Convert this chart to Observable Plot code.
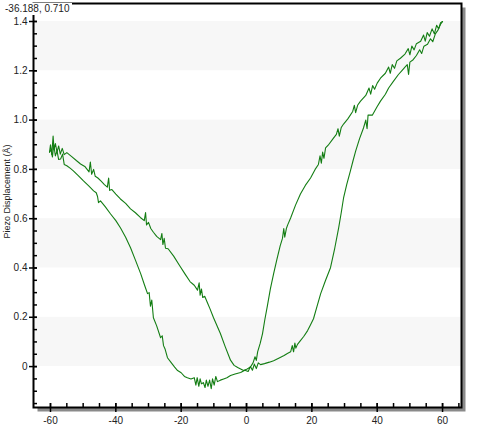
<!DOCTYPE html>
<html>
<head>
<meta charset="utf-8">
<script src="https://cdn.jsdelivr.net/npm/d3@7"></script>
<script src="https://cdn.jsdelivr.net/npm/@observablehq/plot@0.6"></script>
<style>
  html, body { margin: 0; padding: 0; background: #fff; }
  #wrap { position: relative; width: 482px; height: 441px; }
  #chart svg { display: block; }
  #cursor { position: absolute; left: 4px; top: 3px; padding: 0 2px 1px 1px; background: #fff;
            font: 10px "Liberation Sans", Arial, sans-serif; color: #222; line-height: 11px; }
</style>
</head>
<body>
<div id="wrap"><div id="chart"></div><div id="cursor"></div></div>
<script>
// ---- data ----
const cursorText = "-36.188, 0.710";
const yLabel = "Piezo Displacement (Å)";

const xTicks = [-60, -40, -20, 0, 20, 40, 60];
const xTickLabels = ["-60", "-40", "-20", "0", "20", "40", "60"];
const xMinorTicks = [-60, -55, -50, -45, -40, -35, -30, -25, -20, -15, -10, -5, 0, 5, 10, 15, 20, 25, 30, 35, 40, 45, 50, 55, 60, 65];
const yTicks = [0, 0.2, 0.4, 0.6, 0.8, 1.0, 1.2, 1.4];
const yTickLabels = ["0", "0.2", "0.4", "0.6", "0.8", "1.0", "1.2", "1.4"];
const yMinorTicks = [-0.15, -0.1, -0.05, 0, 0.05, 0.1, 0.15, 0.2, 0.25, 0.3, 0.35, 0.4, 0.45, 0.5, 0.55, 0.6, 0.65, 0.7, 0.75, 0.8, 0.85, 0.9, 0.95, 1.0, 1.05, 1.1, 1.15, 1.2, 1.25, 1.3, 1.35, 1.4, 1.45];
const bandLo = [0, 0.4, 0.8, 1.2];
const bandHi = [0.2, 0.6, 1.0, 1.4];

// branch A: upper-left branch, through zero, steep rise to the top right
const aVolt = [-60.3,-60.0,-59.6,-59.2,-58.9,-58.5,-58.0,-57.5,-57.0,-56.4,-55.8,-55.0,-53.5,-52.0,-50.8,-49.5,-48.2,-47.8,-47.4,-46.8,-46.3,-45.5,-44.5,-43.5,-42.6,-42.2,-41.9,-41.2,-40.0,-38.6,-37.0,-35.5,-34.0,-32.5,-31.3,-30.9,-30.6,-30.0,-29.3,-28.5,-27.5,-26.3,-25.9,-25.6,-25.2,-24.8,-24.0,-22.3,-20.5,-18.8,-17.3,-16.0,-15.0,-14.5,-14.2,-13.8,-13.4,-12.8,-11.9,-11.2,-10.1,-9.0,-8.0,-6.5,-4.9,-3.8,-2.7,-1.5,-0.9,0.2,1.2,2.0,2.6,3.0,3.4,4.2,4.9,5.6,6.4,7.3,8.3,9.3,10.3,11.0,11.4,11.7,12.2,12.6,13.5,15.0,16.5,18.0,19.6,21.0,22.0,22.5,22.9,23.3,23.7,24.2,25.0,26.5,27.5,28.0,28.4,29.0,29.7,31.0,32.5,33.0,33.4,34.0,34.9,36.5,37.5,38.0,38.6,39.2,40.0,41.0,42.5,43.5,44.0,44.6,45.3,46.0,47.1,48.5,49.5,50.0,50.6,51.3,52.0,53.3,54.2,54.7,55.3,56.0,56.8,57.5,58.2,58.8,59.4,60.0];
const aDisp = [0.870,0.900,0.860,0.935,0.880,0.905,0.870,0.895,0.862,0.885,0.860,0.868,0.852,0.835,0.822,0.812,0.790,0.830,0.780,0.800,0.772,0.765,0.752,0.738,0.728,0.765,0.715,0.718,0.700,0.680,0.662,0.640,0.624,0.605,0.592,0.625,0.575,0.585,0.560,0.545,0.528,0.515,0.540,0.495,0.520,0.480,0.478,0.448,0.410,0.375,0.345,0.330,0.310,0.340,0.290,0.315,0.280,0.285,0.257,0.235,0.198,0.165,0.134,0.080,0.026,0.005,-0.004,-0.012,-0.016,-0.010,-0.002,0.015,0.040,0.025,0.060,0.095,0.134,0.190,0.247,0.315,0.377,0.435,0.490,0.520,0.560,0.525,0.560,0.575,0.603,0.655,0.700,0.735,0.765,0.800,0.820,0.855,0.825,0.870,0.845,0.887,0.898,0.925,0.942,0.965,0.935,0.970,0.984,1.005,1.035,1.060,1.030,1.060,1.077,1.100,1.130,1.105,1.140,1.125,1.150,1.170,1.190,1.215,1.190,1.225,1.210,1.240,1.251,1.268,1.290,1.265,1.300,1.285,1.310,1.320,1.345,1.320,1.355,1.340,1.370,1.350,1.385,1.370,1.395,1.400];

// branch B: lower-left branch, minimum near -12, low right branch, steep rise near 30
const bVolt = [-60.3,-59.8,-59.4,-59.0,-58.5,-58.0,-57.5,-56.9,-56.3,-55.8,-55.0,-54.0,-53.0,-51.5,-49.9,-48.3,-46.8,-46.0,-45.6,-45.3,-44.7,-43.2,-41.6,-40.0,-38.6,-37.0,-35.5,-34.0,-32.4,-31.2,-30.3,-29.8,-29.4,-29.0,-28.5,-27.5,-26.3,-25.8,-25.4,-24.9,-24.2,-23.0,-22.0,-21.1,-20.0,-19.0,-18.1,-17.0,-16.0,-15.5,-15.1,-14.6,-14.2,-13.8,-13.2,-12.7,-12.3,-11.8,-11.3,-10.8,-10.4,-9.9,-9.4,-8.9,-8.0,-7.0,-6.0,-4.9,-3.5,-1.8,-0.5,0.5,1.2,1.8,2.4,3.0,3.6,4.3,5.5,7.0,8.3,10.0,11.5,12.5,13.5,14.0,14.4,14.8,15.1,15.6,16.5,17.5,18.7,19.6,20.5,21.6,22.7,24.2,25.7,27.0,28.2,29.0,29.7,30.7,31.8,32.6,33.4,34.6,35.8,36.5,36.9,37.2,38.5,40.0,41.0,42.5,43.5,45.0,46.5,47.5,48.5,49.2,49.6,50.0,51.0,52.0,53.0,53.6,54.3,55.4,56.3,57.0,57.8,58.6,59.4,60.0];
const bDisp = [0.870,0.880,0.850,0.900,0.855,0.875,0.840,0.842,0.862,0.820,0.815,0.805,0.794,0.775,0.753,0.733,0.713,0.705,0.690,0.665,0.672,0.648,0.619,0.592,0.563,0.525,0.482,0.432,0.377,0.330,0.296,0.300,0.245,0.270,0.198,0.165,0.117,0.125,0.085,0.070,0.036,0.015,-0.002,-0.016,-0.025,-0.040,-0.045,-0.050,-0.045,-0.075,-0.045,-0.080,-0.050,-0.070,-0.065,-0.085,-0.055,-0.080,-0.055,-0.090,-0.050,-0.075,-0.040,-0.061,-0.055,-0.050,-0.045,-0.036,-0.030,-0.024,-0.015,-0.020,0.000,-0.015,0.010,-0.008,0.015,0.008,0.012,0.018,0.024,0.035,0.045,0.053,0.060,0.085,0.060,0.095,0.075,0.090,0.105,0.122,0.146,0.170,0.194,0.245,0.296,0.350,0.401,0.480,0.563,0.625,0.684,0.740,0.794,0.835,0.874,0.925,0.968,1.000,0.965,1.020,1.020,1.055,1.077,1.105,1.130,1.158,1.185,1.200,1.215,1.225,1.185,1.235,1.245,1.262,1.285,1.270,1.300,1.308,1.330,1.318,1.350,1.365,1.389,1.400];

// ---- build ----
const rows = [
  ...aVolt.map((v, i) => ({branch: "A", volt: v, disp: aDisp[i]})),
  ...bVolt.map((v, i) => ({branch: "B", volt: v, disp: bDisp[i]}))
];
const bands = bandLo.map((lo, i) => ({lo, hi: bandHi[i]}));
const xDomain = [-65.2, 65.8];
const yDomain = [-0.166, 1.473];
const font = "Liberation Sans, Arial, sans-serif";

const chart = Plot.plot({
  width: 482,
  height: 441,
  marginLeft: 33,
  marginRight: 21,
  marginTop: 3,
  marginBottom: 34,
  style: {fontFamily: font, fontSize: "10px", background: "white", overflow: "visible"},
  x: {domain: xDomain, axis: null},
  y: {domain: yDomain, axis: null},
  marks: [
    Plot.frame({fill: "#8a8a8a", stroke: null, dx: 4, dy: 4}),
    Plot.frame({fill: "white", stroke: null}),
    Plot.rect(bands, {x1: xDomain[0], x2: xDomain[1], y1: "lo", y2: "hi", fill: "#f7f7f7"}),
    Plot.line(rows, {x: "volt", y: "disp", z: "branch", stroke: "#137d13", strokeWidth: 1.1, curve: "linear"}),
    // minor ticks (inside)
    Plot.axisX(xMinorTicks, {anchor: "bottom", label: null, tickSize: 4, dy: -4, tickFormat: () => "", stroke: "black", strokeWidth: 1.5}),
    Plot.axisY(yMinorTicks, {anchor: "left", label: null, tickSize: 4, dx: 4, tickFormat: () => "", stroke: "black", strokeWidth: 1.5}),
    // major ticks and labels
    Plot.axisX(xTicks, {anchor: "bottom", label: null, tickSize: 9, dy: -4, tickPadding: 4, tickFormat: (d, i) => xTickLabels[i], stroke: "black", strokeWidth: 1.5, fill: "#222", fontSize: 10}),
    Plot.axisY(yTicks, {anchor: "left", label: null, tickSize: 8, dx: 4, tickPadding: 2, tickFormat: (d, i) => yTickLabels[i], stroke: "black", strokeWidth: 1.5, fill: "#222", fontSize: 10}),
    Plot.frame({stroke: "black", strokeWidth: 2}),
    Plot.text([yLabel], {frameAnchor: "left", text: d => d, rotate: -90, textAnchor: "middle", lineAnchor: "middle", dx: -26, dy: -14, fill: "#222", fontSize: 9})
  ]
});
document.getElementById("chart").appendChild(chart);
document.getElementById("cursor").textContent = cursorText;
</script>
</body>
</html>
